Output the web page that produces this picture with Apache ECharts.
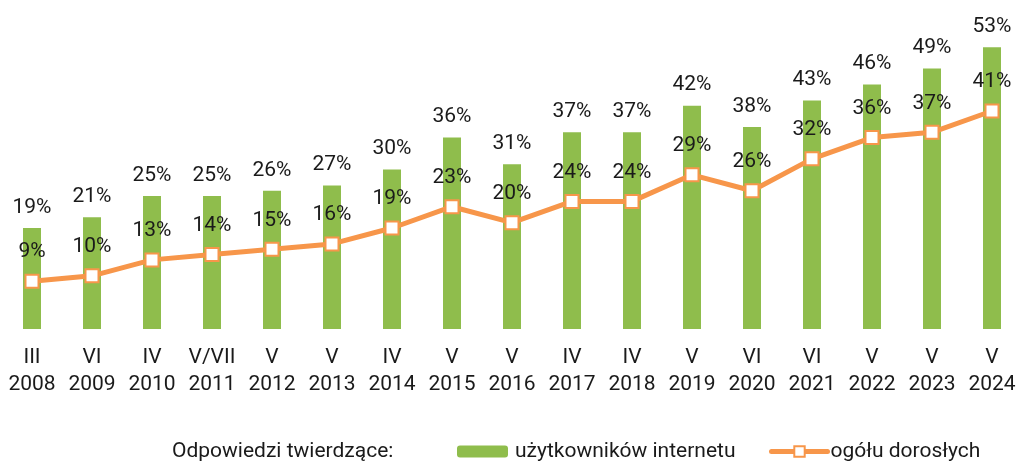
<!DOCTYPE html>
<html><head><meta charset="utf-8">
<script src="https://cdn.jsdelivr.net/npm/echarts@6/dist/echarts.min.js"></script>
<style>html,body{margin:0;padding:0;background:#fff}#c{width:1022px;height:464px}</style>
</head><body><div id="c"></div>
<script>
var months = ['III','VI','IV','V/VII','V','V','IV','V','V','IV','IV','V','VI','VI','V','V','V'];
var years = ['2008','2009','2010','2011','2012','2013','2014','2015','2016','2017','2018','2019','2020','2021','2022','2023','2024'];
var internetUsers = [19,21,25,25,26,27,30,36,31,37,37,42,38,43,46,49,53];
var allAdults = [9,10,13,14,15,16,19,23,20,24,24,29,26,32,36,37,41];
var seriesNames = ['użytkowników internetu','ogółu dorosłych'];
var legendTitle = 'Odpowiedzi twierdzące:';

var categories = months.map(function(m,i){return m + '\n' + years[i];});
var FONT = 'Roboto';
var GREEN = '#8fbd4c';
var ORANGE = '#f7964a';
var TXT = '#1a1a1a';
var chart = echarts.init(document.getElementById('c'));
chart.setOption({
  animation:false,
  textStyle:{fontFamily:FONT},
  grid:{left:2, width:1026, top:10, height:319},
  xAxis:{type:'category', data:categories, boundaryGap:true,
    axisLine:{show:false}, axisTick:{show:false},
    axisLabel:{fontFamily:FONT, fontSize:21, color:TXT, lineHeight:27, margin:15, interval:0}},
  yAxis:{type:'value', min:0, max:60, show:false, splitLine:{show:false}},
  graphic:[{type:'text', left:172, top:441, style:{text:legendTitle, font:'21px Roboto', fill:TXT}}],
  legend:[
    {data:[seriesNames[0]], left:457, top:441, padding:0, itemWidth:51, itemHeight:12, itemGap:0,
     textStyle:{fontFamily:FONT, fontSize:21, color:TXT, padding:[0,0,0,2]}},
    {data:[seriesNames[1]], left:769, top:441, padding:0, itemWidth:56, itemHeight:13, itemGap:0,
     lineStyle:{width:5, cap:'round'},
     textStyle:{fontFamily:FONT, fontSize:21, color:TXT, padding:[0,0,0,-2]}}
  ],
  series:[
    {name:seriesNames[0], type:'bar', data:internetUsers, barWidth:18,
     itemStyle:{color:GREEN},
     label:{show:true, position:'top', distance:10, formatter:'{c}%', fontFamily:FONT, fontSize:21, color:TXT}},
    {name:seriesNames[1], type:'line', data:allAdults, symbol:'rect', symbolSize:13,
     lineStyle:{color:ORANGE, width:5},
     itemStyle:{color:'#ffffff', borderColor:ORANGE, borderWidth:2},
     label:{show:true, position:'top', distance:11, formatter:'{c}%', fontFamily:FONT, fontSize:21, color:TXT}}
  ]
});
</script></body></html>
